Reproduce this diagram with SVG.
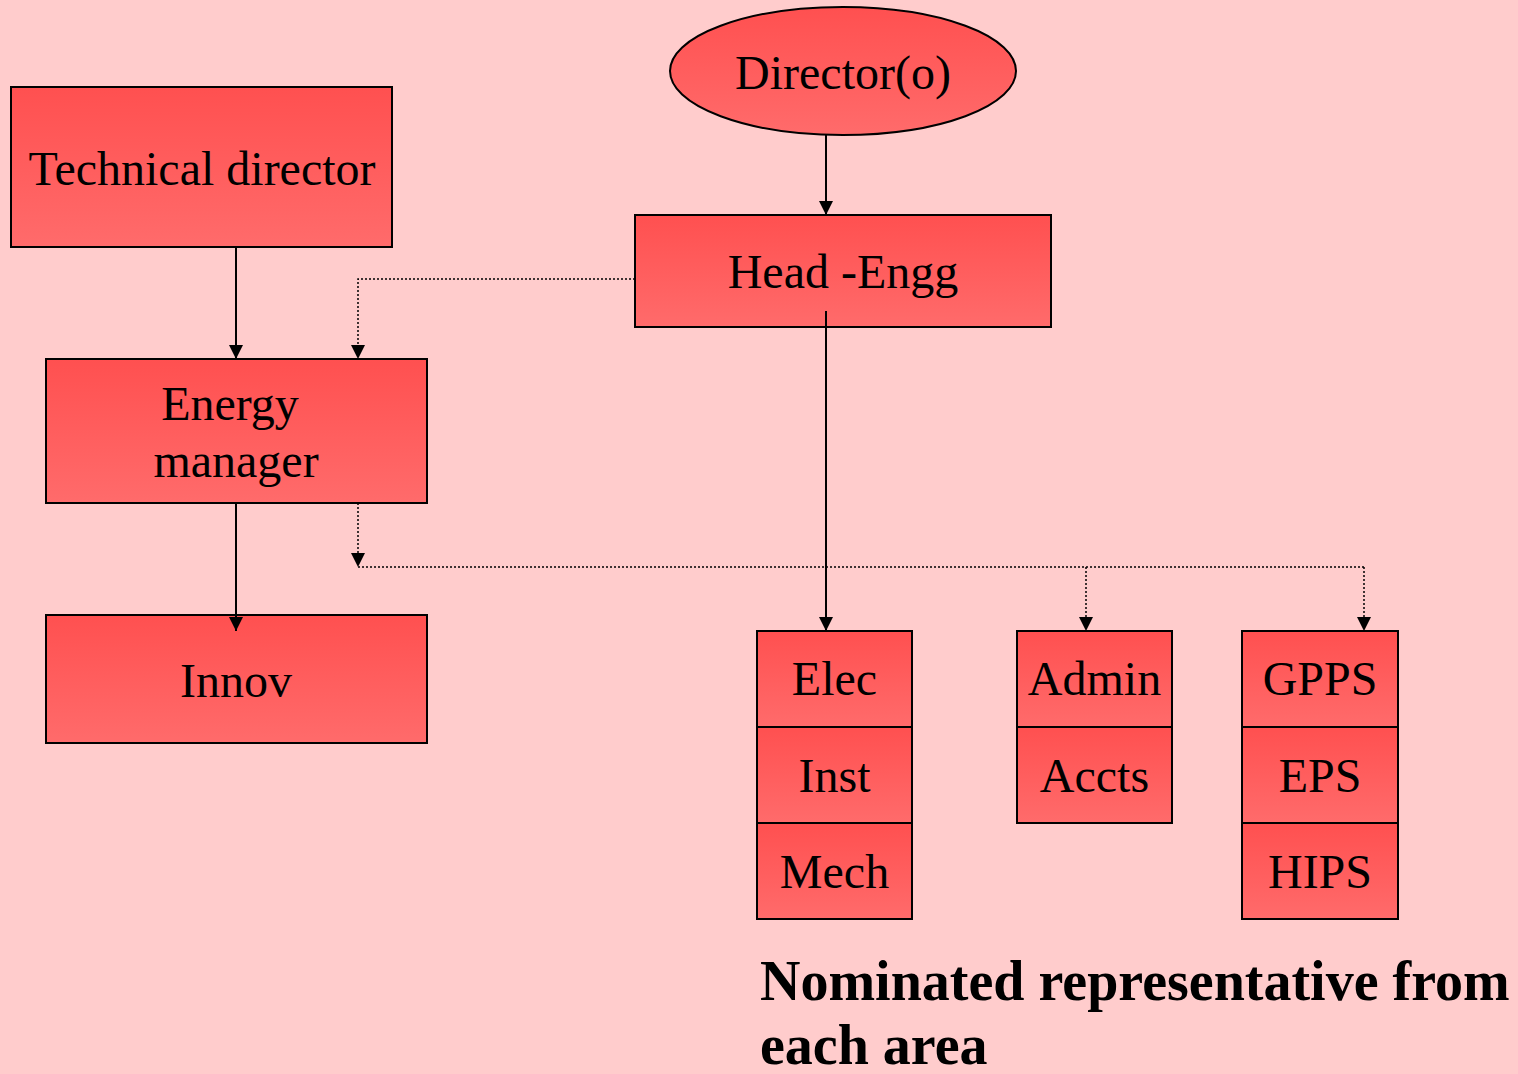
<svg xmlns="http://www.w3.org/2000/svg" width="1518" height="1074" viewBox="0 0 1518 1074">
<defs>
<linearGradient id="g" x1="0" y1="0" x2="0" y2="1">
<stop offset="0" stop-color="#FF5050"/>
<stop offset="1" stop-color="#FF6B6B"/>
</linearGradient>
<marker id="ah" markerWidth="14" markerHeight="14" refX="14" refY="7" orient="auto" markerUnits="userSpaceOnUse" viewBox="0 0 14 14">
<path d="M0,0 L14,7 L0,14 Z" fill="#000"/>
</marker>
<style>
.box{fill:url(#g);stroke:#000;stroke-width:2}
.t{font-family:"Liberation Serif","Times New Roman",serif;font-size:48px;fill:#000;text-anchor:middle}
.b{font-family:"Liberation Serif","Times New Roman",serif;font-size:56px;font-weight:bold;fill:#000}
.s{fill:none;stroke:#000;stroke-width:2}
.d{fill:none;stroke:#000;stroke-width:1.5;stroke-dasharray:2 2}
</style>
</defs>
<rect width="1518" height="1074" fill="#FFCCCC"/>
<g id="technical-director">
<rect class="box" x="11" y="87" width="381" height="160"/>
<text class="t" x="202" y="185">Technical director</text>
</g>
<g id="director">
<ellipse class="box" cx="843" cy="71" rx="173" ry="64"/>
<text class="t" x="843" y="89">Director(o)</text>
</g>
<g id="head-engg">
<rect class="box" x="635" y="215" width="416" height="112"/>
<text class="t" x="843" y="288">Head -Engg</text>
</g>
<g id="energy-manager">
<rect class="box" x="46" y="359" width="381" height="144"/>
<text class="t" x="230" y="420">Energy</text>
<text class="t" x="236" y="477">manager</text>
</g>
<g id="innov">
<rect class="box" x="46" y="615" width="381" height="128"/>
<text class="t" x="236" y="697">Innov</text>
</g>
<g id="elec">
<rect class="box" x="757" y="631" width="155" height="96"/>
<text class="t" x="834.5" y="695">Elec</text>
</g>
<g id="inst">
<rect class="box" x="757" y="727" width="155" height="96"/>
<text class="t" x="834.5" y="792">Inst</text>
</g>
<g id="mech">
<rect class="box" x="757" y="823" width="155" height="96"/>
<text class="t" x="834.5" y="888">Mech</text>
</g>
<g id="admin">
<rect class="box" x="1017" y="631" width="155" height="96"/>
<text class="t" x="1094.5" y="695">Admin</text>
</g>
<g id="accts">
<rect class="box" x="1017" y="727" width="155" height="96"/>
<text class="t" x="1094.5" y="792">Accts</text>
</g>
<g id="gpps">
<rect class="box" x="1242" y="631" width="156" height="96"/>
<text class="t" x="1320" y="695">GPPS</text>
</g>
<g id="eps">
<rect class="box" x="1242" y="727" width="156" height="96"/>
<text class="t" x="1320" y="792">EPS</text>
</g>
<g id="hips">
<rect class="box" x="1242" y="823" width="156" height="96"/>
<text class="t" x="1320" y="888">HIPS</text>
</g>
<g id="connectors">
<line class="s" x1="826" y1="135" x2="826" y2="215" marker-end="url(#ah)"/>
<line class="s" x1="236" y1="247" x2="236" y2="359" marker-end="url(#ah)"/>
<polyline class="d" points="635,279 358,279 358,359" marker-end="url(#ah)"/>
<line class="s" x1="236" y1="503" x2="236" y2="631" marker-end="url(#ah)"/>
<polyline class="d" points="358,503 358,567" marker-end="url(#ah)"/>
<polyline class="d" points="358,567 1364,567"/>
<line class="d" x1="1086" y1="567" x2="1086" y2="631" marker-end="url(#ah)"/>
<line class="d" x1="1364" y1="567" x2="1364" y2="631" marker-end="url(#ah)"/>
<line class="s" x1="826" y1="311" x2="826" y2="631" marker-end="url(#ah)"/>
</g>
<g id="caption">
<text class="b" x="760" y="1000">Nominated representative from</text>
<text class="b" x="760" y="1064">each area</text>
</g>
</svg>
